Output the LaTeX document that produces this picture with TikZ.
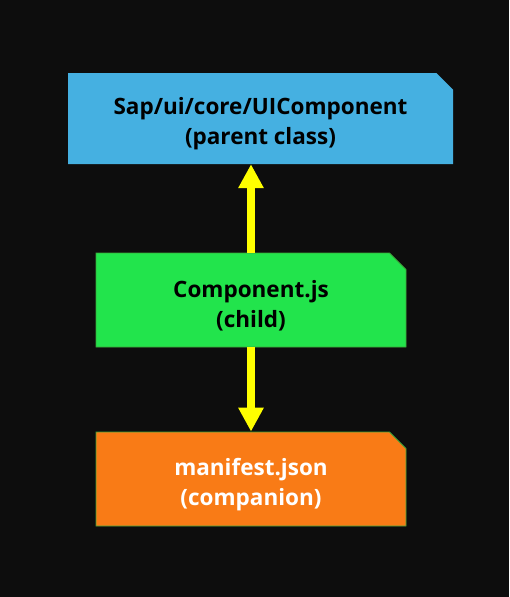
\documentclass[tikz,border=0pt]{standalone}
\usepackage{fontspec}
\setmainfont{Open Sans}
\usetikzlibrary{arrows.meta, positioning, shapes.misc}
\definecolor{bgdark}{HTML}{0D0D0D}
\definecolor{parentblue}{HTML}{45B0E1}
\definecolor{childgreen}{HTML}{22E44C}
\definecolor{comporange}{HTML}{F97B16}
\definecolor{edgegreen}{HTML}{3DA63A}
\definecolor{linkyellow}{HTML}{FFFF00}
\newcommand{\padtop}{\rule{0pt}{28pt}}

\tikzset{
  snipbox/.style={chamfered rectangle, chamfered rectangle corners=north east,
    chamfered rectangle xsep=13pt, chamfered rectangle angle=45,
    inner sep=0pt, align=center, font=\fontsize{22.5}{30}\selectfont\bfseries},
  link/.style={-{Triangle[width=24pt,length=24pt]}, linkyellow, line width=8pt}
}

\begin{document}
\begin{tikzpicture}[x=1pt, y=-1pt]
  \fill[bgdark] (0,0) rectangle (509,597);
  \useasboundingbox (0,0) rectangle (509,597);
  % boxes
  \node[snipbox, fill=parentblue, minimum width=385pt, minimum height=91pt]
    (parent) at (260.5,118.5) {\padtop Sap/ui/core/UIComponent\\(parent class)};
  \node[snipbox, fill=childgreen, draw=edgegreen, line width=0.8pt,
    minimum width=310pt, minimum height=94pt]
    (child) at (251,300) {\padtop Component.js\\(child)};
  \node[snipbox, fill=comporange, draw=edgegreen, line width=0.8pt, text=white,
    minimum width=310pt, minimum height=94pt]
    (companion) at (251,479) {\padtop manifest.json\\(companion)};
  % links
  \draw[link] (child.north) -- (child.north |- parent.south);
  \draw[link] (child.south) -- (companion.north);
\end{tikzpicture}
\end{document}
